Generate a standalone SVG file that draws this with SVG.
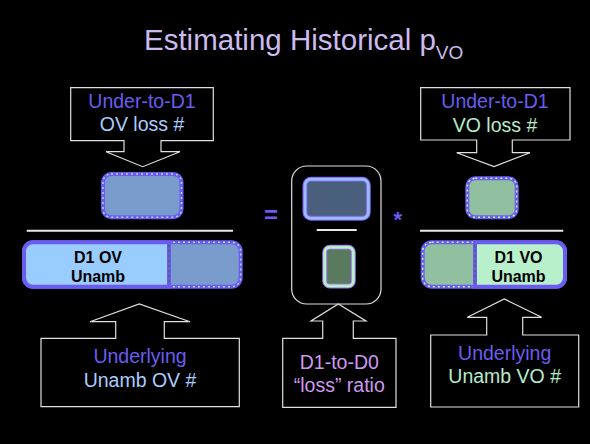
<svg xmlns="http://www.w3.org/2000/svg" width="590" height="444" viewBox="0 0 590 444">
<style>
text{font-family:"Liberation Sans",Arial,sans-serif}
.lbl{font-size:19.5px;text-anchor:middle}
.blk{font-size:16px;font-weight:bold;text-anchor:middle;fill:#000}
.call{fill:#000;stroke:#e0e0e0;stroke-width:1.2}
.sep{stroke:#e8e8e8;stroke-width:2}
.pur{fill:#6a5cf0}
.lav{fill:#cc99ee}
.lb{fill:#aaccff}
.lg{fill:#b4eccc}
.dashb{fill:none;stroke:#b8d4ff;stroke-width:1.5;stroke-dasharray:2 3}
.dashg{fill:none;stroke:#c4f4d8;stroke-width:1.5;stroke-dasharray:2 3}
</style>
<rect width="590" height="444" fill="#000"/>
<text x="144" y="50" font-size="29.5" fill="#ccbbee">Estimating Historical p<tspan font-size="19" dy="9">VO</tspan></text>

<g id="callout-top-left">
<path class="call" d="M70.7,87.7 H213.3 V140.7 H161 V151.7 H180 L142.7,166.7 L106,151.7 H124 V140.7 H70.7 Z"/>
<text class="lbl pur" x="142" y="108.3">Under-to-D1</text>
<text class="lbl lb" x="142" y="131">OV loss #</text>
</g>

<g id="callout-top-right">
<path class="call" d="M420.7,87.7 H570 V140 H512.3 V152.7 H530 L494,166.5 L456.7,152.7 H476.7 V140 H420.7 Z"/>
<text class="lbl pur" x="495" y="108.3">Under-to-D1</text>
<text class="lbl lg" x="495" y="131.5">VO loss #</text>
</g>

<g id="ov-loss-box">
<rect x="103" y="174" width="78.5" height="43.3" rx="8" fill="#7a9ccc" stroke="#6a5cf0" stroke-width="4"/>
<rect x="103" y="174" width="78.5" height="43.3" rx="8" class="dashb"/>
</g>

<g id="vo-loss-box">
<rect x="467.3" y="178.3" width="49.4" height="39" rx="8" fill="#90c0a0" stroke="#6a5cf0" stroke-width="4"/>
<rect x="467.3" y="178.3" width="49.4" height="39" rx="8" class="dashg"/>
</g>

<g id="separators">
<line class="sep" x1="26.7" y1="230.7" x2="233" y2="230.7"/>
<line class="sep" x1="420" y1="230.7" x2="563.3" y2="230.7"/>
</g>

<g id="d1-ov-unamb">
<rect x="24" y="242.3" width="216.7" height="44.4" rx="9" fill="#7a9ccc" stroke="#6a5cf0" stroke-width="4"/>
<rect x="24" y="242.3" width="216.7" height="44.4" rx="9" class="dashb"/>
<path d="M33,242.3 H169 V286.7 H33 A9,9 0 0 1 24,277.7 V251.3 A9,9 0 0 1 33,242.3 Z" fill="#99ccff" stroke="#6a5cf0" stroke-width="4"/>
<line x1="169" y1="244.5" x2="169" y2="284.5" stroke="#555" stroke-width="1" stroke-dasharray="3 2"/>
<text class="blk" x="98" y="262.7">D1 OV</text>
<text class="blk" x="98" y="281.7">Unamb</text>
</g>

<g id="d1-vo-unamb">
<rect x="422.7" y="242.3" width="142.3" height="44.4" rx="9" fill="#90c0a0" stroke="#6a5cf0" stroke-width="4"/>
<rect x="422.7" y="242.3" width="142.3" height="44.4" rx="9" class="dashg"/>
<path d="M475,242.3 H556 A9,9 0 0 1 565,251.3 V277.7 A9,9 0 0 1 556,286.7 H475 Z" fill="#b8f0cc" stroke="#6a5cf0" stroke-width="4"/>
<line x1="475" y1="244.5" x2="475" y2="284.5" stroke="#555" stroke-width="1" stroke-dasharray="3 2"/>
<text class="blk" x="518.5" y="262.7">D1 VO</text>
<text class="blk" x="518.5" y="281.7">Unamb</text>
</g>

<g id="ratio-box">
<rect x="291.7" y="166" width="89.3" height="138" rx="15" fill="#000" stroke="#e0e0e0" stroke-width="1.2"/>
<rect x="305" y="179.3" width="63.3" height="39" rx="6" fill="#4a5f7c" stroke="#7a5ce8" stroke-width="5"/>
<rect x="305" y="179.3" width="63.3" height="39" rx="6" fill="none" stroke="#99bbff" stroke-width="3"/>
<line class="sep" x1="316.7" y1="230" x2="356.7" y2="230"/>
<rect x="324.7" y="247.3" width="28.6" height="38.7" rx="5" fill="#5a7a60" stroke="#9a70e8" stroke-width="5"/>
<rect x="324.7" y="247.3" width="28.6" height="38.7" rx="5" fill="none" stroke="#b8f0c8" stroke-width="3"/>
</g>

<g id="operators">
<text x="271" y="223" font-size="24" font-weight="bold" text-anchor="middle" fill="#6a5cf0">=</text>
<text x="397.7" y="227" font-size="22" font-weight="bold" text-anchor="middle" fill="#6a5cf0">*</text>
</g>

<g id="callout-bottom-left">
<path class="call" d="M41,406.7 V338.3 H115.7 V321.7 H90 L139.3,304 L190,321.7 H164.3 V338.3 H239.3 V406.7 Z"/>
<text class="lbl pur" x="140" y="363">Underlying</text>
<text class="lbl lb" x="140" y="387">Unamb OV #</text>
</g>

<g id="callout-bottom-center">
<path class="call" d="M282.7,407.3 V338.3 H322.7 V321 H311 L338.3,304 L366,321 H353.3 V338.3 H396 V407.3 Z"/>
<text class="lbl lav" x="339.3" y="369">D1-to-D0</text>
<text class="lbl lav" x="339.3" y="392">“loss” ratio</text>
</g>

<g id="callout-bottom-right">
<path class="call" d="M430.7,407 V335 H486.7 V317.3 H467.3 L504.3,299 L541.7,317.3 H522.7 V335 H578.7 V407 Z"/>
<text class="lbl pur" x="504.7" y="360">Underlying</text>
<text class="lbl lg" x="504.7" y="382.5">Unamb VO #</text>
</g>
</svg>
